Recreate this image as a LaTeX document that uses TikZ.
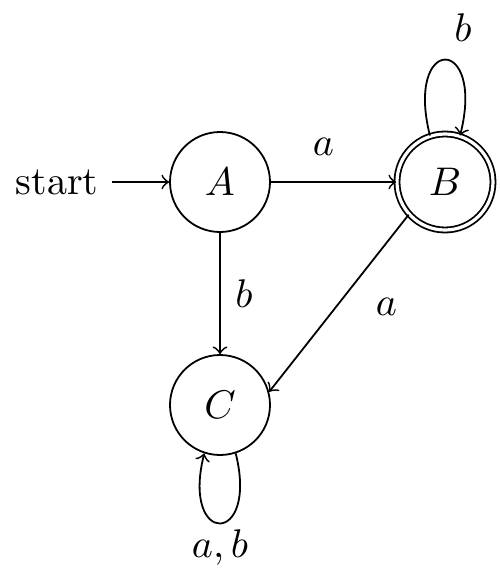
\documentclass[tikz,border=0pt]{standalone}
\usetikzlibrary{arrows}
\begin{document}
\begin{tikzpicture}[x=1pt,y=1pt,
  st/.style={draw, circle, minimum size=25pt, inner sep=0pt, line width=0.45pt},
  acc/.style={st, double, double distance=0.8pt, minimum size=24pt},
  edgestyle/.style={->, >=to, line width=0.45pt},
  lbl/.style={inner sep=0pt}]
\useasboundingbox (0,0) rectangle (125,145.5);
\node[st] (A) at (55,100) {$A$};
\node[acc] (B) at (111.25,100) {$B$};
\node[st] (C) at (55,44.25) {$C$};
\node[inner sep=3.3pt] (s) at (14.25,100) {start};
\draw[edgestyle] (s) -- (A);
\draw[edgestyle] (A) -- node[lbl, above, yshift=6.5pt, xshift=-2.5pt] {$a$} (B);
\draw[edgestyle] (A) -- node[lbl, right, xshift=3.6pt] {$b$} (C);
\draw[edgestyle] (B.222) -- node[lbl, right, xshift=9pt, yshift=-1pt] {$a$} (C.15);
\draw[edgestyle] (B.108) .. controls +(104:26pt) and +(76:26pt) .. (B.72);
\node (lb) at (115.75,138.5) {$b$};
\draw[edgestyle] (C.-72) .. controls +(-76:24pt) and +(-104:24pt) .. (C.-108);
\node (lc) at (55,8.5) {$a,b$};
\end{tikzpicture}
\end{document}
